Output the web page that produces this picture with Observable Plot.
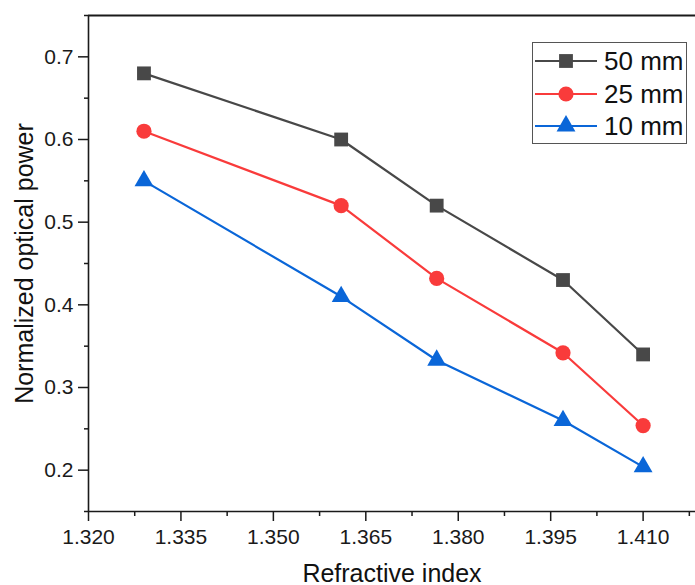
<!DOCTYPE html>
<html>
<head>
<meta charset="utf-8">
<script src="https://cdn.jsdelivr.net/npm/d3@7"></script>
<script src="https://cdn.jsdelivr.net/npm/@observablehq/plot@0.6"></script>
<style>
  html, body { margin: 0; padding: 0; background: #fff; }
  #wrap { position: relative; width: 695px; height: 585px; font-family: "Liberation Sans", Arial, sans-serif; }
  #legend { position: absolute; left: 532px; top: 42px; }
</style>
</head>
<body>
<div id="wrap"><div id="chart"></div><div id="legend"></div></div>
<script>
// ---- data ----
const refractiveIndex = [1.329, 1.361, 1.3765, 1.397, 1.410];
const seriesNames = ["50 mm", "25 mm", "10 mm"];
const power50 = [0.68, 0.60, 0.52, 0.43, 0.34];
const power25 = [0.61, 0.52, 0.432, 0.342, 0.254];
const power10 = [0.55, 0.41, 0.333, 0.26, 0.204];
const xTicks = [1.320, 1.335, 1.350, 1.365, 1.380, 1.395, 1.410];
const xMinorTicks = [1.3275, 1.3425, 1.3575, 1.3725, 1.3875, 1.4025, 1.4175];
const yTicks = [0.2, 0.3, 0.4, 0.5, 0.6, 0.7];
const yMinorTicks = [0.15, 0.25, 0.35, 0.45, 0.55, 0.65, 0.75];
const xLabel = "Refractive index";
const yLabel = "Normalized optical power";

// ---- styles ----
const colors = {"50 mm": "#484848", "25 mm": "#f93b3b", "10 mm": "#0a66d8"};
const symbols = {"50 mm": "square", "25 mm": "circle", "10 mm": "triangle"};
const radii = {"50 mm": 7.8, "25 mm": 7.6, "10 mm": 7};

const seriesValues = [power50, power25, power10];
const data = [];
seriesNames.forEach((name, i) => {
  refractiveIndex.forEach((x, j) => data.push({series: name, x, y: seriesValues[i][j]}));
});

const font = '"Liberation Sans", Arial, sans-serif';
const axisColor = "#1a1a1a";

const marks = [
  Plot.axisX({ticks: xTicks, tickSize: 10, tickPadding: 8, tickFormat: d3.format(".3f"), fontSize: 21, label: null, stroke: axisColor, strokeWidth: 1.5, fill: axisColor}),
  Plot.axisX({ticks: xMinorTicks, tickSize: 5, text: null, label: null, stroke: axisColor, strokeWidth: 1.5}),
  Plot.axisY({ticks: yTicks, tickSize: 10, tickPadding: 5, tickFormat: d3.format(".1f"), fontSize: 21, label: null, stroke: axisColor, strokeWidth: 1.5, fill: axisColor}),
  Plot.axisY({ticks: yMinorTicks, tickSize: 4, text: null, label: null, stroke: axisColor, strokeWidth: 1.5}),
  Plot.ruleX([1.320], {stroke: axisColor, strokeWidth: 1.6}),
  Plot.ruleY([0.15], {stroke: axisColor, strokeWidth: 1.6}),
  Plot.ruleY([0.75], {stroke: axisColor, strokeWidth: 1.8}),
  Plot.text([xLabel], {text: d => d, frameAnchor: "bottom", dy: 62, fontSize: 25, fill: "#111", lineAnchor: "middle"}),
  Plot.text([yLabel], {text: d => d, frameAnchor: "left", dx: -64, rotate: -90, fontSize: 25, fill: "#111", lineAnchor: "middle", textAnchor: "middle"})
];
seriesNames.forEach(name => {
  const d = data.filter(r => r.series === name);
  marks.push(Plot.line(d, {x: "x", y: "y", stroke: colors[name], strokeWidth: 2.2}));
  marks.push(Plot.dot(d, {x: "x", y: "y", fill: colors[name], stroke: "none", symbol: () => symbols[name], r: radii[name]}));
});

const chart = Plot.plot({
  width: 695,
  height: 585,
  marginLeft: 88,
  marginRight: 0,
  marginTop: 15,
  marginBottom: 74,
  style: {fontFamily: font, background: "#fff", color: "#111"},
  x: {domain: [1.320, 1.4185]},
  y: {domain: [0.15, 0.75]},
  symbol: {type: "identity"},
  marks
});
document.getElementById("chart").appendChild(chart);

// ---- legend ----
const lw = 155, lh = 102;
const lg = d3.select("#legend").append("svg").attr("width", lw).attr("height", lh)
  .style("font-family", font);
lg.append("rect").attr("x", 0.5).attr("y", 0.5).attr("width", lw - 1).attr("height", lh - 1)
  .attr("fill", "#fff").attr("stroke", "#555").attr("stroke-width", 1);
const rowY = [19, 52, 84];
seriesNames.forEach((name, i) => {
  const g = lg.append("g").attr("transform", `translate(0,${rowY[i]})`);
  g.append("line").attr("x1", 3).attr("x2", 65).attr("y1", 0).attr("y2", 0)
    .attr("stroke", colors[name]).attr("stroke-width", 2.2);
  const sym = {square: d3.symbolSquare, circle: d3.symbolCircle, triangle: d3.symbolTriangle}[symbols[name]];
  g.append("path").attr("d", d3.symbol(sym, Math.PI * radii[name] * radii[name])())
    .attr("transform", "translate(34,0)").attr("fill", colors[name]);
  g.append("text").attr("x", 72).attr("y", 0).attr("dy", "0.36em")
    .attr("font-size", 26).attr("fill", "#111").text(name);
});
</script>
</body>
</html>
